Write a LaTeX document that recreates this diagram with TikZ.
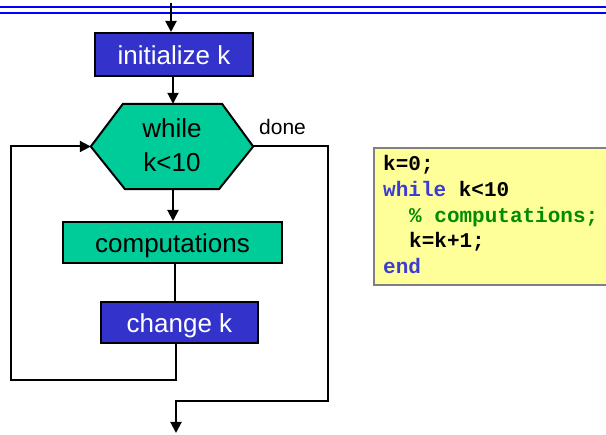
\documentclass[tikz,border=0pt]{standalone}
\usepackage{fontspec}
\setmainfont{Liberation Sans}
\newfontfamily\codefont{Liberation Mono}
\usetikzlibrary{arrows.meta}
\definecolor{boxblue}{RGB}{51,51,204}
\definecolor{boxteal}{RGB}{0,204,153}
\definecolor{codebg}{RGB}{255,255,153}
\definecolor{codeblue}{RGB}{60,60,210}
\definecolor{codegreen}{RGB}{0,140,0}
\definecolor{rule}{RGB}{0,0,255}
\tikzset{
  conn/.style={line width=2pt, draw=black},
  arr/.style={conn, -{Triangle[length=11pt,width=11pt]}},
  flowbox/.style={draw=black, line width=2pt, inner sep=0pt, text height=21pt, text depth=0pt,
    font=\fontsize{26}{30}\selectfont},
  bluebox/.style={flowbox, fill=boxblue, text=white},
  tealbox/.style={flowbox, fill=boxteal, text=black},
  codeline/.style={anchor=base west, inner sep=0pt, font=\codefont\bfseries\fontsize{21}{26}\selectfont},
}
\begin{document}
\begin{tikzpicture}[x=1pt,y=-1pt]
\useasboundingbox (0,0) rectangle (606,435);
% header rules
\draw[rule, line width=2pt] (0,6.7) -- (606,6.7);
\draw[rule, line width=2pt] (0,12.7) -- (606,12.7);

% nodes
\node[bluebox, minimum width=158pt, minimum height=43pt] (init) at (174,54.5) {initialize k};
\node[minimum width=162pt, minimum height=85pt, inner sep=0pt, align=center,
      font=\fontsize{26}{34}\selectfont] (hex) at (172,146.5) {};
\fill[boxteal] (hex.west) -- ([xshift=-49pt]hex.north) -- ([xshift=50pt]hex.north) -- (hex.east)
   -- ([xshift=47pt]hex.south) -- ([xshift=-47pt]hex.south) -- cycle;
\draw[conn, line join=miter] (hex.west) -- ([xshift=-49pt]hex.north) -- ([xshift=50pt]hex.north) -- (hex.east)
   -- ([xshift=47pt]hex.south) -- ([xshift=-47pt]hex.south) -- cycle;
\node[inner sep=0pt, anchor=base, font=\fontsize{26}{34}\selectfont] (hexA) at (172,138) {while};
\node[inner sep=0pt, anchor=base, font=\fontsize{26}{34}\selectfont] (hexB) at (172,172) {k<10};
\node[tealbox, minimum width=219pt, minimum height=41pt] (comp) at (172.5,242.5) {computations};
\node[bluebox, minimum width=157pt, minimum height=41pt] (chg) at (179.5,322.5) {change k};
\node[inner sep=0pt, anchor=base west, font=\fontsize{21}{25}\selectfont] (done) at (259,135) {done};

% connectors
\coordinate (top) at (171,3);
\draw[arr] (top) -- (top |- init.north);
\draw[arr] ([xshift=-1pt]init.south) -- ([xshift=-1pt]init.south |- hex.north);
\draw[arr] ([xshift=1pt]hex.south) -- ([xshift=1pt]hex.south |- comp.north);
\draw[conn] ([xshift=2.5pt]comp.south) -- ([xshift=2.5pt]comp.south |- chg.north);
\coordinate (L1) at (10.7,380.5);
\draw[arr] ([xshift=-3.5pt]chg.south) |- (L1) |- (hex.west);
\coordinate (R1) at (328,401);
\coordinate (out) at (176,433);
\draw[arr] (hex.east) -| (R1) -| (out);

% code box
\node[draw={rgb,255:red,128;green,128;blue,128}, line width=2pt, fill=codebg, inner sep=0pt,
      minimum width=236pt, minimum height=137pt, anchor=north west] (code) at (373,147) {};
\node[codeline] (c1) at (383,171) {k=0;};
\node[codeline] (c2) at (383,196.7) {\textcolor{codeblue}{while} k<10};
\node[codeline] (c3) at (409,222.4) {\textcolor{codegreen}{\% computations;}};
\node[codeline] (c4) at (409,248) {k=k+1;};
\node[codeline] (c5) at (383,273.8) {\textcolor{codeblue}{end}};
\end{tikzpicture}
\end{document}
